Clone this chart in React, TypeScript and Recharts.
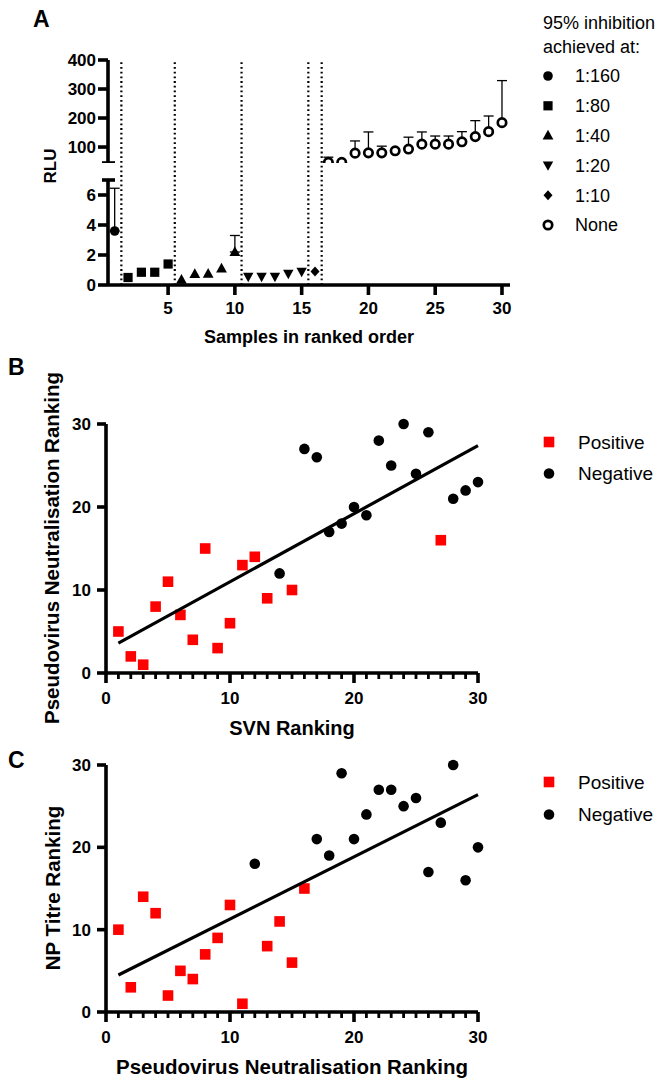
import React from 'react';
import { ScatterChart, Scatter, XAxis, YAxis, ErrorBar, ReferenceLine } from 'recharts';

const FONT = '"Liberation Sans", Arial, Helvetica, sans-serif';

// ---------- Panel A data ----------
const sampleRank = [1, 2, 3, 4, 5, 6, 7, 8, 9, 10, 11, 12, 13, 14, 15, 16, 17, 18, 19, 20, 21, 22, 23, 24, 25, 26, 27, 28, 29, 30];
const rluValue = [3.6, 0.5, 0.85, 0.85, 1.4, 0.35, 0.73, 0.75, 1.1, 2.2, 0.55, 0.55, 0.55, 0.75, 0.88, 0.9, 47, 47, 79, 80, 80, 87, 93, 110, 110, 110, 118, 136, 153, 184];
const rluErrorUp = [2.85, null, null, null, null, null, null, null, null, 1.1, null, null, null, null, null, null, 18, null, 42, 72, 23, null, 41, 42, 28, 28, 35, 55, 54, 145];
const inhibitionGroup = ['1:160', '1:80', '1:80', '1:80', '1:80', '1:40', '1:40', '1:40', '1:40', '1:40', '1:20', '1:20', '1:20', '1:20', '1:20', '1:10', 'None', 'None', 'None', 'None', 'None', 'None', 'None', 'None', 'None', 'None', 'None', 'None', 'None', 'None'];
const groupNames = ['1:160', '1:80', '1:40', '1:20', '1:10', 'None'];
const groupMarkers = ['circle', 'square', 'triangle', 'triangleDown', 'diamond', 'openCircle'];
const dividerPositions = [1.5, 5.5, 10.5, 15.5, 16.5];
const upperTicks = [45, 100, 200, 300, 400];
const lowerTicks = [0, 2, 4, 6, 7];
const sampleTicks = [5, 10, 15, 20, 25, 30];
const legendATitle = ['95% inhibition', 'achieved at:'];

// ---------- Panel B data ----------
const svnRankPositive = [1, 2, 3, 4, 5, 6, 7, 8, 9, 10, 11, 12, 13, 15, 27];
const pseudoRankPositiveB = [5, 2, 1, 8, 11, 7, 4, 15, 3, 6, 13, 14, 9, 10, 16];
const svnRankNegative = [14, 16, 17, 18, 19, 20, 21, 22, 23, 24, 25, 26, 28, 29, 30];
const pseudoRankNegativeB = [12, 27, 26, 17, 18, 20, 19, 28, 25, 30, 24, 29, 21, 22, 23];
const fitBx = [1, 30];
const fitBy = [3.6, 27.4];

// ---------- Panel C data ----------
const pseudoRankPositiveC = [1, 2, 3, 4, 5, 6, 7, 8, 9, 10, 11, 13, 14, 15, 16];
const npRankPositive = [10, 3, 14, 12, 2, 5, 4, 7, 9, 13, 1, 8, 11, 6, 15];
const pseudoRankNegativeC = [12, 17, 18, 19, 20, 21, 22, 23, 24, 25, 26, 27, 28, 29, 30];
const npRankNegative = [18, 21, 19, 29, 21, 24, 27, 27, 25, 26, 17, 23, 30, 16, 20];
const fitCx = [1, 30];
const fitCy = [4.5, 26.4];

const rankTicksX = [0, 1, 2, 3, 4, 5, 6, 7, 8, 9, 10, 11, 12, 13, 14, 15, 16, 17, 18, 19, 20, 21, 22, 23, 24, 25, 26, 27, 28, 29, 30];
const rankTicksY = [0, 10, 20, 30];
const statusNames = ['Positive', 'Negative'];

// ---------- helpers ----------
const zip = (xs: number[], ys: number[]) => xs.map((x, i) => ({ x, y: ys[i] }));

const sampleRows = sampleRank.map((s, i) => ({
  sample: s,
  rlu: rluValue[i],
  err: rluErrorUp[i] == null ? null : [0, rluErrorUp[i]],
  group: inhibitionGroup[i],
}));
const upperRows = sampleRows.filter((r) => r.rlu > 7);
const lowerRows = sampleRows.filter((r) => r.rlu <= 7);
const dividerRows = dividerPositions.map((p) => ({ sample: p, level: 0 }));

const AXIS_W = 3.6;

function Marker({ kind, cx, cy }: { kind: string; cx: number; cy: number }) {
  switch (kind) {
    case 'circle':
      return <circle cx={cx} cy={cy} r={4.8} fill="#000" />;
    case 'square':
      return <rect x={cx - 4.6} y={cy - 4.6} width={9.2} height={9.2} fill="#000" />;
    case 'triangle':
      return <path d={`M${cx},${cy - 5.8} L${cx + 5.4},${cy + 4} L${cx - 5.4},${cy + 4} Z`} fill="#000" />;
    case 'triangleDown':
      return <path d={`M${cx},${cy + 5.4} L${cx + 5.2},${cy - 4} L${cx - 5.2},${cy - 4} Z`} fill="#000" />;
    case 'diamond':
      return <path d={`M${cx},${cy - 5} L${cx + 4.5},${cy} L${cx},${cy + 5} L${cx - 4.5},${cy} Z`} fill="#000" />;
    case 'openCircle':
      return <circle cx={cx} cy={cy} r={4.2} fill="#fff" stroke="#000" strokeWidth={2.7} />;
    case 'redSquare':
      return <rect x={cx - 5.3} y={cy - 5.3} width={10.6} height={10.6} fill="#ff0000" />;
    case 'blackDot':
      return <circle cx={cx} cy={cy} r={5.3} fill="#000" />;
    default:
      return <g />;
  }
}

const shapeFor = (kind: string) => (p: any) => <Marker kind={kind} cx={p.cx} cy={p.cy} />;
const noShape = () => <g />;

const tickText = {
  fontFamily: FONT,
  fontSize: 17,
  fontWeight: 700,
  fill: '#000',
};

// custom ticks: tickSize/tickMargin are 0, so (x, y) is the point on the axis line
const segmentYTick = (breakValue: number) => (props: any) => {
  const { x, y, payload } = props;
  const v = payload.value;
  if (v === breakValue) {
    return <path d={`M${x - 6},${y} L${x + 7},${y}`} stroke="#000" strokeWidth={AXIS_W} fill="none" />;
  }
  return (
    <g>
      <path d={`M${x - 10},${y} L${x},${y}`} stroke="#000" strokeWidth={AXIS_W} fill="none" />
      <text x={x - 12} y={y} dy="0.36em" textAnchor="end" {...tickText}>{v}</text>
    </g>
  );
};

const sampleXTick = (props: any) => {
  const { x, y, payload } = props;
  return (
    <g>
      <path d={`M${x},${y} L${x},${y + 10}`} stroke="#000" strokeWidth={AXIS_W} fill="none" />
      <text x={x} y={y + 23} dy="0.36em" textAnchor="middle" {...tickText}>{payload.value}</text>
    </g>
  );
};

const rankYTick = (props: any) => {
  const { x, y, payload } = props;
  return (
    <g>
      <path d={`M${x - 9},${y} L${x},${y}`} stroke="#000" strokeWidth={AXIS_W} fill="none" />
      <text x={x - 15} y={y} dy="0.36em" textAnchor="end" {...tickText}>{payload.value}</text>
    </g>
  );
};

const rankXTick = (props: any) => {
  const { x, y, payload } = props;
  const v = payload.value;
  const major = v % 10 === 0;
  return (
    <g>
      <path d={`M${x},${y} L${x},${y + (major ? 10 : 6)}`} stroke="#000" strokeWidth={major ? AXIS_W : 2.8} fill="none" />
      {major ? (
        <text x={x} y={y + 25} dy="0.36em" textAnchor="middle" {...tickText}>{v}</text>
      ) : null}
    </g>
  );
};

const axisLineStyle = { stroke: '#000', strokeWidth: AXIS_W };
const A_X_DOMAIN: [number, number] = [0.5, 30.6];

function SegmentChart({ rows, domain, ticks, breakValue, showX, top, height, xAxisHeight }: any) {
  return (
    <div style={{ position: 'absolute', left: 0, top, width: 660, height }}>
      <ScatterChart width={660} height={height} margin={{ top: 10, right: 150, bottom: 0, left: 48 }}>
        <XAxis
          type="number"
          dataKey="sample"
          domain={A_X_DOMAIN}
          hide={!showX}
          height={xAxisHeight}
          ticks={sampleTicks}
          interval={0}
          stroke="#000"
          tickSize={0}
          tickMargin={0}
          tickLine={false}
          axisLine={axisLineStyle}
          tick={sampleXTick}
        />
        <YAxis
          type="number"
          dataKey="rlu"
          width={60}
          domain={domain}
          ticks={ticks}
          interval={0}
          stroke="#000"
          tickSize={0}
          tickMargin={0}
          tickLine={false}
          axisLine={axisLineStyle}
          tick={segmentYTick(breakValue)}
        />
        {groupNames.map((g, gi) => {
          const data = rows.filter((r: any) => r.group === g);
          if (!data.length) return null;
          return (
            <Scatter key={g} name={g} data={data} shape={shapeFor(groupMarkers[gi])} isAnimationActive={false}>
              <ErrorBar dataKey="err" direction="y" width={5} stroke="#000" strokeWidth={1.3} />
            </Scatter>
          );
        })}
      </ScatterChart>
    </div>
  );
}

function DividerChart() {
  return (
    <div style={{ position: 'absolute', left: 0, top: 50, width: 660, height: 235 }}>
      <ScatterChart width={660} height={235} margin={{ top: 10, right: 150, bottom: 0, left: 48 }}>
        <XAxis type="number" dataKey="sample" domain={A_X_DOMAIN} height={0} axisLine={false} tickLine={false} tick={false} />
        <YAxis type="number" dataKey="level" domain={[0, 1]} width={60} axisLine={false} tickLine={false} tick={false} />
        <Scatter data={dividerRows} shape={noShape} isAnimationActive={false} />
        {dividerPositions.map((p) => (
          <ReferenceLine key={p} x={p} stroke="#000" strokeWidth={2.2} strokeDasharray="1.8 2.9" ifOverflow="visible" />
        ))}
      </ScatterChart>
    </div>
  );
}

function RankChart({ top, height, xAxisHeight, pos, neg, fit }: any) {
  return (
    <div style={{ position: 'absolute', left: 0, top, width: 660, height }}>
      <ScatterChart width={660} height={height} margin={{ top: 10, right: 182, bottom: 0, left: 46 }}>
        <XAxis
          type="number"
          dataKey="x"
          domain={[0, 30]}
          height={xAxisHeight}
          ticks={rankTicksX}
          interval={0}
          stroke="#000"
          tickSize={0}
          tickMargin={0}
          tickLine={false}
          axisLine={axisLineStyle}
          tick={rankXTick}
        />
        <YAxis
          type="number"
          dataKey="y"
          width={60}
          domain={[0, 30]}
          ticks={rankTicksY}
          interval={0}
          stroke="#000"
          tickSize={0}
          tickMargin={0}
          tickLine={false}
          axisLine={axisLineStyle}
          tick={rankYTick}
        />
        <Scatter name={statusNames[0]} data={pos} shape={shapeFor('redSquare')} isAnimationActive={false} />
        <Scatter name={statusNames[1]} data={neg} shape={shapeFor('blackDot')} isAnimationActive={false} />
        <Scatter
          data={fit}
          shape={noShape}
          line={{ stroke: '#000', strokeWidth: 3.2 }}
          legendType="none"
          isAnimationActive={false}
        />
      </ScatterChart>
    </div>
  );
}

const titleStyle = { fontFamily: FONT, fontWeight: 700, fill: '#000' } as const;
const legendStyle = { fontFamily: FONT, fontWeight: 400, fill: '#000' } as const;

function Overlay() {
  return (
    <svg
      width={660}
      height={1080}
      style={{ position: 'absolute', left: 0, top: 0, pointerEvents: 'none' }}
    >
      <text x={33} y={27} fontSize={23} {...titleStyle}>A</text>
      <text x={8} y={375} fontSize={23} {...titleStyle}>B</text>
      <text x={8} y={768} fontSize={23} {...titleStyle}>C</text>

      <text x={50} y={166} dy="0.36em" fontSize={17} textAnchor="middle" transform="rotate(-90 50 166)" {...titleStyle}>RLU</text>
      <text x={309} y={337} dy="0.36em" fontSize={18} textAnchor="middle" {...titleStyle}>Samples in ranked order</text>

      {legendATitle.map((t, i) => (
        <text key={t} x={543} y={23 + i * 24} dy="0.36em" fontSize={18} {...legendStyle}>{t}</text>
      ))}
      {groupNames.map((g, i) => {
        const cy = 76 + i * 29.8;
        return (
          <g key={g}>
            <Marker kind={groupMarkers[i]} cx={548} cy={cy} />
            <text x={575} y={cy} dy="0.36em" fontSize={18} {...legendStyle}>{g}</text>
          </g>
        );
      })}

      <text x={52} y={548} dy="0.36em" fontSize={20.5} textAnchor="middle" transform="rotate(-90 52 548)" {...titleStyle}>Pseudovirus Neutralisation Ranking</text>
      <text x={292} y={728} dy="0.36em" fontSize={20} textAnchor="middle" {...titleStyle}>SVN Ranking</text>
      {statusNames.map((s, i) => {
        const cy = 442 + i * 31.5;
        return (
          <g key={s}>
            <Marker kind={i === 0 ? 'redSquare' : 'blackDot'} cx={549} cy={cy} />
            <text x={578} y={cy} dy="0.36em" fontSize={19} {...legendStyle}>{s}</text>
          </g>
        );
      })}

      <text x={53} y={888} dy="0.36em" fontSize={20.5} textAnchor="middle" transform="rotate(-90 53 888)" {...titleStyle}>NP Titre Ranking</text>
      <text x={292} y={1067} dy="0.36em" fontSize={20.5} textAnchor="middle" {...titleStyle}>Pseudovirus Neutralisation Ranking</text>
      {statusNames.map((s, i) => {
        const cy = 782 + i * 32.5;
        return (
          <g key={s}>
            <Marker kind={i === 0 ? 'redSquare' : 'blackDot'} cx={549} cy={cy} />
            <text x={578} y={cy} dy="0.36em" fontSize={19} {...legendStyle}>{s}</text>
          </g>
        );
      })}
    </svg>
  );
}

export default function App() {
  return (
    <div style={{ position: 'absolute', left: 0, top: 0, width: 660, height: 1080, background: '#fff' }}>
      <DividerChart />
      <SegmentChart rows={upperRows} domain={[45, 400]} ticks={upperTicks} breakValue={45} showX={false} top={50} height={113} xAxisHeight={0} />
      <SegmentChart rows={lowerRows} domain={[0, 7]} ticks={lowerTicks} breakValue={7} showX={true} top={170} height={175} xAxisHeight={60} />
      <RankChart top={414} height={329} xAxisHeight={70} pos={zip(svnRankPositive, pseudoRankPositiveB)} neg={zip(svnRankNegative, pseudoRankNegativeB)} fit={zip(fitBx, fitBy)} />
      <RankChart top={755} height={317} xAxisHeight={60} pos={zip(pseudoRankPositiveC, npRankPositive)} neg={zip(pseudoRankNegativeC, npRankNegative)} fit={zip(fitCx, fitCy)} />
      <Overlay />
    </div>
  );
}
